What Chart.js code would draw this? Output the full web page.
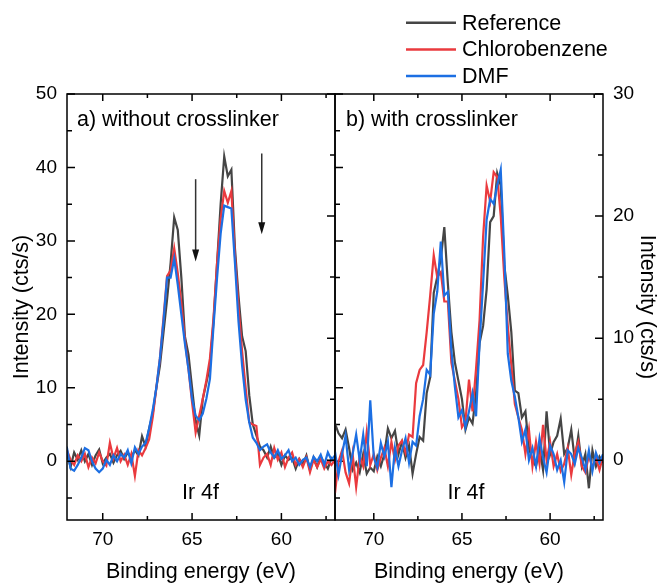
<!DOCTYPE html>
<html>
<head>
<meta charset="utf-8">
<script src="https://cdn.jsdelivr.net/npm/chart.js@4"></script>
<style>
  html, body { margin: 0; padding: 0; background: #fff; }
  #wrap { position: relative; width: 658px; height: 583px; }
  #wrap canvas { position: absolute; left: 0; top: 0; }
</style>
</head>
<body>
<div id="wrap">
  <canvas id="panelA" width="658" height="583"></canvas>
  <canvas id="panelB" width="658" height="583"></canvas>
</div>
<script>
// binding energy (eV), same grid for both panels
const energy = [
  72.2, 72.0, 71.8, 71.6, 71.4, 71.2, 71.0, 70.8, 70.6, 70.4,
  70.2, 70.0, 69.8, 69.6, 69.4, 69.2, 69.0, 68.8, 68.6, 68.4,
  68.2, 68.0, 67.8, 67.6, 67.4, 67.2, 67.0, 66.8, 66.6, 66.4,
  66.2, 66.0, 65.8, 65.6, 65.4, 65.2, 65.0, 64.8, 64.6, 64.4,
  64.2, 64.0, 63.8, 63.6, 63.4, 63.2, 63.0, 62.8, 62.6, 62.4,
  62.2, 62.0, 61.8, 61.6, 61.4, 61.2, 61.0, 60.8, 60.6, 60.4,
  60.2, 60.0, 59.8, 59.6, 59.4, 59.2, 59.0, 58.8, 58.6, 58.4,
  58.2, 58.0, 57.8, 57.6, 57.4, 57.2, 57.0
];

// a) without crosslinker
const aReference = [
  0.5, 1.0, -0.8, 1.2, 0.2, 1.5, 0.0, 1.0, -0.5, 0.8,
  1.6, -0.3, 0.5, 1.0, -0.2, 0.8, 1.4, 0.3, 1.2, 0.5,
  1.5, 0.8, 3.4, 2.0, 4.5, 6.5, 10.0, 13.0, 17.5, 22.0,
  27.0, 33.2, 31.5, 25.0, 17.0, 14.5, 10.0, 5.5, 3.5, 8.5,
  10.7, 13.0, 19.0, 27.0, 35.0, 41.5, 38.8, 39.7, 29.0, 22.5,
  17.0, 15.0, 9.0, 5.0, 3.5, 2.0, 1.5, 0.5, 2.0, 0.5,
  1.0, -0.5, 0.8, 0.2, 0.5, -1.0, 0.3, -0.5, 0.8, -1.2,
  0.5, -0.8, 0.6, -0.2, -1.0, 0.4, -0.2
];
const aChlorobenzene = [
  0.0, 1.5, 0.2, -0.5, 0.8, 0.0, 1.0, -0.8, 0.5, -0.3,
  1.2, 0.0, -0.6, 2.5, 0.4, 1.8, 0.0, 0.9, -0.5, 1.0,
  -2.0, 1.5, 0.8, 1.8, 3.0, 6.0, 10.0, 14.0, 19.5, 25.2,
  26.0, 29.0, 25.6, 21.5, 16.5, 12.5, 8.0, 3.9, 6.2, 8.5,
  11.0, 14.0, 19.5, 27.0, 33.0, 36.8, 35.2, 36.8, 28.0, 21.0,
  15.0, 10.0, 5.3, 5.0, 4.8, -0.5, 0.5, 1.0, -0.5, 1.8,
  0.2, 1.2, -0.8, 0.5, 1.2, -0.5, 0.3, -0.8, 0.5, -1.5,
  0.2, -0.8, 0.3, -1.0, 0.0, -0.5, 0.2
];
const aDMF = [
  1.5, 1.8, -1.0, -1.3, -0.5, 0.5, 1.8, 1.5, 0.0, -1.0,
  -1.5, -1.0, 0.2, -0.5, 0.8, 0.0, 1.0, 0.5, 1.5, -0.3,
  1.9, 1.0, 2.0, 2.5, 4.5, 7.0, 10.0, 14.0, 19.0, 25.0,
  25.0, 27.6, 24.0, 20.0, 16.0, 12.5, 8.5, 6.2, 5.6, 6.5,
  8.5, 11.2, 18.4, 25.0, 31.0, 34.8, 34.6, 34.4, 27.0, 19.0,
  13.0, 8.4, 5.3, 3.2, 2.5, 1.5, 2.0, 2.3, 1.2, 0.5,
  1.5, 0.3, 0.8, 1.5, 0.0, 0.5, -0.5, 0.2, 0.5, -0.8,
  0.6, 0.0, 0.9, -0.5, 1.2, 0.2, 0.8
];

// b) with crosslinker
const bReference = [
  3.0, 2.2, 1.8, 2.5, 1.0, -0.8, -0.2, -1.0, 0.5, -1.1,
  -0.6, -0.9, 0.3, -0.5, 0.5, 2.6, 1.8, 2.4, 0.5, 1.5,
  0.2, 1.2, -1.1, 0.5, 1.9, 1.6, 5.5, 6.8, 13.7, 15.0,
  16.5, 19.1, 14.5, 10.5, 8.0, 6.5, 5.0, 2.5, 3.5, 3.0,
  5.5, 9.6, 11.0, 14.0, 19.5, 20.0, 23.5, 22.5, 16.0, 13.5,
  10.5, 5.7, 5.5, 3.5, 4.0, 1.0, 0.0, -0.5, 1.0, -0.8,
  4.0, 0.5, 1.5, 2.0, 3.4, 0.5, 1.0, 2.5, 0.0, 2.0,
  -0.5, 0.5, -2.3, 0.8, -0.5, 0.3, -0.2
];
const bChlorobenzene = [
  -2.7, -0.1, 0.8, -1.0, -1.9, 0.5, -2.2, 0.3, -0.5, 2.3,
  -0.4, 0.5, -0.8, 0.2, 1.0, -0.5, 1.5, 0.0, 1.2, 1.6,
  0.6, 2.1, 1.9, 6.3, 7.4, 7.8, 10.5, 13.5, 16.8, 15.0,
  15.4, 13.0, 13.0, 8.0, 6.5, 5.0, 2.7, 3.2, 6.6, 4.0,
  7.5, 11.5, 18.3, 22.5, 21.2, 23.6, 23.2, 20.0, 15.0, 11.0,
  7.8, 4.6, 3.5, 2.5, 0.5, 2.5, -0.5, 1.5, -0.3, 2.9,
  0.0, 1.5, -0.5, 0.5, -0.9, -0.3, 1.0, -1.2, 0.6, 1.5,
  -0.5, -1.0, 0.4, -0.6, 0.2, -0.8, 0.3
];
const bDMF = [
  0.7, -1.2, 0.5, 2.0, -0.8, 0.5, 2.1, 0.0, 2.1, -0.5,
  4.9, 0.2, -0.6, 1.4, 0.3, 1.5, -2.2, 1.0, -0.5, 0.8,
  1.8, -0.2, 1.5, 1.2, 3.6, 5.0, 7.4, 7.0, 12.0, 13.8,
  17.9, 13.5, 13.8, 9.0, 6.0, 3.5, 4.1, 2.7, 4.0, 5.5,
  3.6, 9.6, 14.5, 19.7, 21.4, 21.0, 22.5, 23.8, 17.0, 8.7,
  6.5, 5.2, 3.5, 1.5, 2.5, 0.0, 1.0, -0.5, 1.8, 0.2,
  -1.0, 1.2, 0.5, -0.8, 0.0, -1.8, 0.8, 0.5, -0.3, 1.0,
  0.2, -0.8, 0.8, -0.9, 0.6, -0.2, 0.5
];

const seriesNames = ['Reference', 'Chlorobenzene', 'DMF'];
const seriesColors = ['#454545', '#ea3a3e', '#1c6fe3'];

const xTicks = [70, 65, 60];
const xMinor = [67.5, 62.5, 57.5];
const aYTicks = [0, 10, 20, 30, 40, 50];
const aYMinor = [-5, 5, 15, 25, 35, 45];
const bYTicks = [0, 10, 20, 30];
const bYMinor = [5, 15, 25];

const FONT = '"Liberation Sans", Arial, Helvetica, sans-serif';
Chart.defaults.font.family = FONT;
Chart.defaults.color = '#000';

// frame, inward ticks, notes, arrows, legend
const panelDeco = {
  id: 'panelDeco',
  afterDraw(chart, args, o) {
    const { ctx, chartArea: a, scales: { x, y } } = chart;
    const dir = o.side === 'left' ? 1 : -1;
    ctx.save();
    ctx.strokeStyle = '#000';
    ctx.lineWidth = 1.5;
    ctx.beginPath();
    const seg = (x0, y0, x1, y1) => { ctx.moveTo(x0, y0); ctx.lineTo(x1, y1); };
    xTicks.forEach(v => { const p = x.getPixelForValue(v); seg(p, a.bottom, p, a.bottom - 7); seg(p, a.top, p, a.top + 7); });
    xMinor.forEach(v => { const p = x.getPixelForValue(v); seg(p, a.bottom, p, a.bottom - 4); seg(p, a.top, p, a.top + 4); });
    o.yTicks.forEach(v => { const p = y.getPixelForValue(v); [a.left, a.right].forEach(e => seg(e, p, e + dir * 8, p)); });
    o.yMinor.forEach(v => { const p = y.getPixelForValue(v); [a.left, a.right].forEach(e => seg(e, p, e + dir * 5, p)); });
    ctx.stroke();
    ctx.strokeRect(a.left, a.top, a.right - a.left, a.bottom - a.top);

    ctx.fillStyle = '#000';
    ctx.font = '21.5px ' + FONT;
    ctx.textBaseline = 'middle';
    o.notes.forEach(n => {
      ctx.textAlign = n.align;
      ctx.fillText(n.text, x.getPixelForValue(n.x), y.getPixelForValue(n.y));
    });

    ctx.strokeStyle = '#333';
    ctx.fillStyle = '#111';
    ctx.lineWidth = 1.5;
    (o.arrows || []).forEach(ar => {
      const px = x.getPixelForValue(ar.x);
      const y0 = y.getPixelForValue(ar.from);
      const y1 = y.getPixelForValue(ar.to);
      ctx.beginPath(); ctx.moveTo(px, y0); ctx.lineTo(px, y1 - 8); ctx.stroke();
      ctx.beginPath(); ctx.moveTo(px, y1); ctx.lineTo(px - 3.5, y1 - 12); ctx.lineTo(px + 3.5, y1 - 12); ctx.closePath(); ctx.fill();
    });

    if (o.legend) {
      ctx.textAlign = 'left';
      ctx.fillStyle = '#000';
      chart.data.datasets.forEach((d, i) => {
        const ly = 22.7 + i * 26.7;
        ctx.strokeStyle = d.borderColor;
        ctx.lineWidth = 2.5;
        ctx.beginPath(); ctx.moveTo(406, ly); ctx.lineTo(456, ly); ctx.stroke();
        ctx.fillText(d.label, 462, ly + 1);
      });
    }
    ctx.restore();
  }
};

function makePanel(id, series, o) {
  return new Chart(document.getElementById(id), {
    type: 'line',
    data: {
      labels: energy,
      datasets: series.map((s, i) => ({
        label: seriesNames[i],
        data: s,
        borderColor: seriesColors[i],
        order: 3 - i
      }))
    },
    options: {
      responsive: false,
      animation: false,
      events: [],
      layout: { padding: o.padding },
      elements: { point: { radius: 0 }, line: { borderWidth: 2.2, tension: 0 } },
      plugins: { legend: { display: false }, tooltip: { enabled: false }, panelDeco: o.deco },
      scales: {
        x: {
          type: 'linear', reverse: true, min: 57, max: o.xMax,
          grid: { display: false, drawTicks: false }, border: { display: false },
          ticks: { font: { size: 19 }, padding: 8 },
          title: { display: true, text: 'Binding energy (eV)', font: { size: 21.5 }, padding: { top: 0, bottom: -2 } },
          afterBuildTicks: s => { s.ticks = xTicks.map(v => ({ value: v })); },
          afterFit: s => { s.height = 63; }
        },
        y: {
          position: o.deco.side, min: o.yMin, max: o.yMax,
          grid: { display: false, drawTicks: false }, border: { display: false },
          ticks: { font: { size: 19 }, padding: 10 },
          title: { display: true, text: 'Intensity (cts/s)', font: { size: 21.5 }, padding: o.yTitlePad },
          afterBuildTicks: s => { s.ticks = o.deco.yTicks.map(v => ({ value: v })); },
          afterFit: s => { s.width = o.yWidth; }
        }
      }
    },
    plugins: [panelDeco]
  });
}

makePanel('panelA', [aReference, aChlorobenzene, aDMF], {
  padding: { left: 0, top: 94, right: 323, bottom: 0 },
  xMax: 72, yMin: -8, yMax: 50, yWidth: 67,
  yTitlePad: { top: 9, bottom: 0 },
  deco: {
    side: 'left', yTicks: aYTicks, yMinor: aYMinor,
    notes: [
      { text: 'a) without crosslinker', x: 71.44, y: 46.45, align: 'left' },
      { text: 'Ir 4f', x: 64.53, y: -4.33, align: 'center' }
    ],
    arrows: [
      { x: 64.8, from: 38.4, to: 27.2 },
      { x: 61.1, from: 41.9, to: 30.9 }
    ]
  }
});

makePanel('panelB', [bReference, bChlorobenzene, bDMF], {
  padding: { left: 335, top: 94, right: 0, bottom: 0 },
  xMax: 72.2, yMin: -4.9, yMax: 30, yWidth: 55,
  yTitlePad: { top: -2, bottom: 0 },
  deco: {
    side: 'right', yTicks: bYTicks, yMinor: bYMinor, legend: true,
    notes: [
      { text: 'b) with crosslinker', x: 71.58, y: 27.87, align: 'left' },
      { text: 'Ir 4f', x: 64.77, y: -2.7, align: 'center' }
    ]
  }
});
</script>
</body>
</html>
